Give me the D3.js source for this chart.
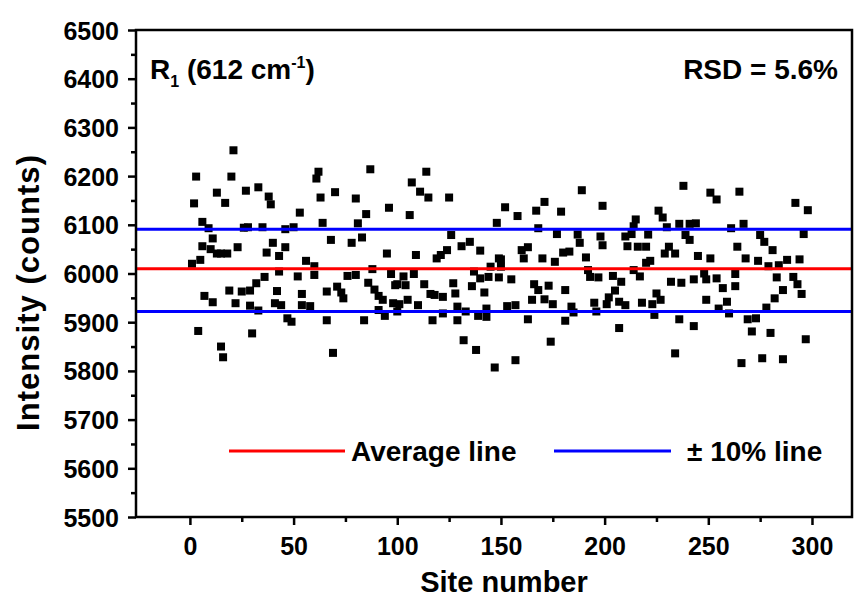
<!DOCTYPE html>
<html><head><meta charset="utf-8">
<script src="https://cdn.jsdelivr.net/npm/d3@7/dist/d3.min.js"></script>
<style>body{margin:0;background:#fff}svg{display:block}text{font-family:"Liberation Sans",Arial,sans-serif;font-weight:bold;fill:#000}</style>
</head><body><svg id="c" width="854" height="599"></svg>
<script>
const sites = [1,2,3,4,5,6,6,7,9,10,11,11,13,13,15,15,16,17,18,19,20,21,22,23,25,26,27,28,29,29,30,32,33,33,35,36,37,38,39,40,41,42,43,43,44,46,46,47,
50,62,61,87,63,70,80,53,85,96,64,81,68,78,83,95,56,60,52,60,76,80,88,97,86,71,73,74,66,89,91,93,99,54,54,58,49,66,84,91,94,98,69,
114,107,111,115,125,106,148,126,131,135,140,124,121,119,109,149,145,103,108,100,104,113,127,136,140,144,137,116,118,122,128,142,101,105,110,100,117,122,129,133,129,139,143,143,132,138,147,
189,152,158,167,171,179,199,168,177,187,188,198,199,160,163,161,170,180,183,176,191,150,150,149,155,192,193,197,166,168,173,181,165,171,175,153,157,184,185,195,196,163,181,174,157,
238,251,226,228,215,214,236,241,244,230,210,213,221,239,241,211,216,220,231,229,234,245,220,222,251,214,204,217,208,232,237,243,248,249,205,202,201,207,210,218,223,225,227,249,224,236,243,207,234,
254,265,292,298,261,267,275,277,281,296,264,268,274,279,284,288,294,263,254,257,263,283,286,291,293,295,282,259,255,260,278,269,273,271,280,297,266,276,286];
const intensity = [6020,6144,6199,5882,6028,6106,6056,5954,6093,6050,6072,5941,6166,6041,5850,6041,5828,6145,6041,5965,6199,6253,5939,6054,5963,6094,6170,6095,5965,5934,5877,5980,5924,6177,6095,5993,6043,6158,6142,6063,5939,5964,6036,6004,5935,6054,6091,5908,
6095,6209,6195,6214,6156,6167,6154,6125,6122,6135,6104,6103,6069,6063,6074,6041,6026,6015,5994,5997,5995,5997,6009,5999,5981,5973,5961,5949,5963,5967,5954,5946,5976,5958,5935,5933,5901,5904,5904,5925,5913,5939,5837,
6209,6187,6168,6156,6156,6120,6104,6079,6056,6065,6047,6048,6038,6031,6038,6031,6014,5994,5999,5978,5976,5978,5980,5974,5990,5993,6004,5958,5956,5952,5959,5961,5937,5946,5935,5922,5904,5918,5932,5922,5904,5913,5928,5911,5863,5843,5807,
6171,6136,6118,6129,6147,6127,6139,6093,6081,6080,6063,6076,6058,6048,6054,6031,6031,6043,6045,6024,6033,6029,6014,5992,5988,6007,5993,5992,5978,5966,5975,5966,5946,5947,5937,5933,5935,5932,5920,5940,5922,5906,5903,5860,5822,
6180,6166,6129,6115,6111,6097,6102,6102,6103,6095,6076,6081,6080,6079,6069,6056,6055,6055,6055,6041,6041,6036,6022,6026,6031,6007,5995,5994,5983,5983,5981,5988,6000,5988,5965,5951,5937,5942,5935,5940,5937,5959,5946,5946,5915,5906,5892,5888,5836,
6152,6168,6145,6130,6093,6102,6079,6065,6048,6081,6055,6031,6026,6015,6017,6028,6029,5999,5990,5970,5974,5992,5966,5993,5978,5958,5949,5942,5928,5918,5930,5906,5908,5881,5878,5865,5816,5826,5824];
const averageLine = 6010;
const upperLine = 6091;
const lowerLine = 5922;
const xDomain = [-26, 319.3];
const yDomain = [5500, 6500];
const xMajor = [0,50,100,150,200,250,300];
const xMinor = [25,75,125,175,225,275];
const yMajor = [5500,5600,5700,5800,5900,6000,6100,6200,6300,6400,6500];
const yMinor = [5550,5650,5750,5850,5950,6050,6150,6250,6350,6450];
const legendItems = [{label:"Average line", color:"#ff0000"},{label:"\u00b1 10% line", color:"#0000ff"}];

const svg = d3.select("#c");
const L=136, R=852, T=30, B=517;
const x = d3.scaleLinear().domain(xDomain).range([L,R]);
const y = d3.scaleLinear().domain(yDomain).range([B,T]);

// points
svg.append("g").selectAll("rect").data(sites.map((s,i)=>[s,intensity[i]])).join("rect")
  .attr("x",d=>x(d[0])-4).attr("y",d=>y(d[1])-4).attr("width",8).attr("height",8).attr("fill","#000");

// reference lines
[[averageLine,"#ff0000"],[upperLine,"#0000ff"],[lowerLine,"#0000ff"]].forEach(([v,c])=>{
  svg.append("line").attr("x1",L).attr("x2",R).attr("y1",y(v)).attr("y2",y(v)).attr("stroke",c).attr("stroke-width",3);
});

// axes
const gx = svg.append("g").attr("transform",`translate(0,${B})`);
gx.call(d3.axisBottom(x).tickValues(xMajor).tickSize(8).tickFormat(d3.format("d")));
const gxm = svg.append("g").attr("transform",`translate(0,${B})`);
gxm.call(d3.axisBottom(x).tickValues(xMinor).tickSize(5).tickFormat(""));
const gy = svg.append("g").attr("transform",`translate(${L},0)`);
gy.call(d3.axisLeft(y).tickValues(yMajor).tickSize(8).tickFormat(d3.format("d")));
const gym = svg.append("g").attr("transform",`translate(${L},0)`);
gym.call(d3.axisLeft(y).tickValues(yMinor).tickSize(5).tickFormat(""));
[gx,gxm,gy,gym].forEach(g=>{g.select(".domain").remove();g.selectAll("line").attr("stroke","#000").attr("stroke-width",2.5);});
gx.selectAll("text").attr("font-size",25).attr("dy",0).attr("y",38).style("font-family","Liberation Sans, Arial, sans-serif").style("font-weight","bold");
gy.selectAll("text").attr("font-size",25).attr("x",-17).attr("dy","0.36em").style("font-family","Liberation Sans, Arial, sans-serif").style("font-weight","bold");

// frame
svg.append("rect").attr("x",L).attr("y",T).attr("width",R-L).attr("height",B-T).attr("fill","none").attr("stroke","#000").attr("stroke-width",2.5);

// titles
svg.append("text").attr("x",(L+R)/2+10).attr("y",592).attr("text-anchor","middle").attr("font-size",29).text("Site number");
svg.append("text").attr("transform","translate(39,293) rotate(-90)").attr("text-anchor","middle").attr("font-size",31)
  .attr("textLength",276).attr("lengthAdjust","spacing").text("Intensity (counts)");

// annotations
const r1 = svg.append("text").attr("x",150).attr("y",79).attr("font-size",28);
r1.append("tspan").text("R");
r1.append("tspan").attr("font-size",16).attr("dy",8).text("1");
r1.append("tspan").attr("dy",-8).text(" (612 cm");
r1.append("tspan").attr("font-size",16).attr("dy",-11).text("-1");
r1.append("tspan").attr("dy",11).text(")");
svg.append("text").attr("x",838).attr("y",79).attr("text-anchor","end").attr("font-size",28).text("RSD = 5.6%");

// legend
const lg = [[229,345,351],[554,671,687]];
legendItems.forEach((it,i)=>{
  svg.append("line").attr("x1",lg[i][0]).attr("x2",lg[i][1]).attr("y1",451).attr("y2",451).attr("stroke",it.color).attr("stroke-width",3);
  svg.append("text").attr("x",lg[i][2]).attr("y",461).attr("font-size",28).text(it.label);
});
</script></body></html>
